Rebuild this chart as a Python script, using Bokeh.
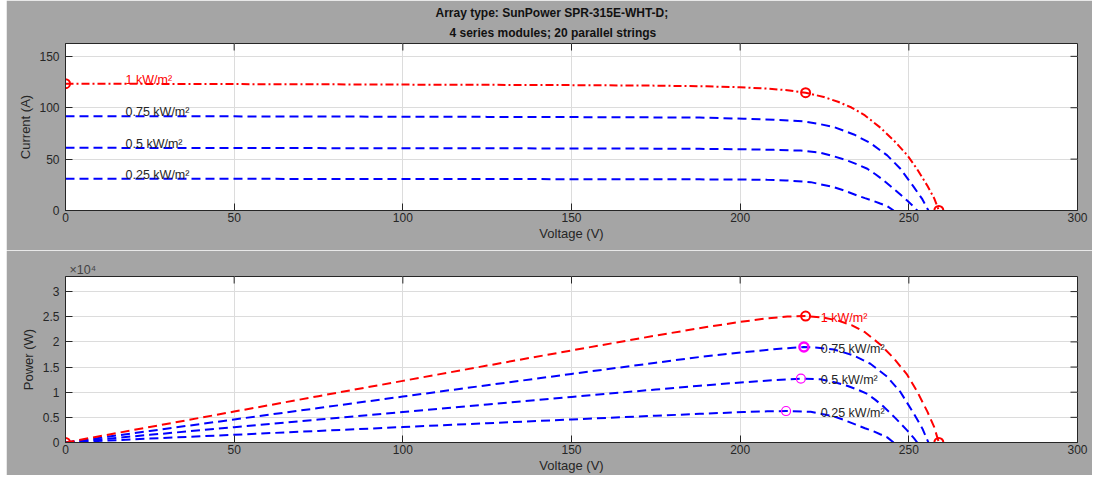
from bokeh.plotting import figure
from bokeh.layouts import column
from bokeh.models import ColumnDataSource, FixedTicker, Range1d, Title
from bokeh.core.properties import value
from bokeh.embed import file_html
from bokeh.resources import INLINE

# ---------------- data ----------------
v_1000 = [0, 25, 50, 75, 100, 125, 150, 175, 190, 200, 208, 214, 219.4, 224.8, 229, 233, 237, 241.6, 245.6, 249.5, 252.5, 255.5, 257.5, 258.9]
i_1000 = [123.4, 123.2, 123.0, 122.8, 122.5, 122.3, 122.0, 121.5, 120.8, 119.9, 118.6, 117.0, 114.6, 110.4, 105.8, 100.2, 92.5, 80.5, 68.0, 54.0, 40.0, 24.0, 12.0, 0]
p_1000 = [0, 3080, 6150, 9210, 12250, 15288, 18300, 21263, 22952, 23980, 24669, 25038, 25143, 24818, 24228, 23347, 21923, 19449, 16701, 13473, 10100, 6132, 3090, 0]

v_750 = [0, 25, 50, 75, 100, 125, 150, 175, 188, 201, 210, 218.9, 223, 227.8, 233.7, 238.6, 243.6, 247.5, 251.5, 254, 255.8]
i_750 = [91.8, 91.7, 91.6, 91.4, 91.3, 91.1, 90.9, 90.6, 90.4, 89.3, 88.3, 86.7, 84.5, 81.2, 74.0, 65.6, 53.6, 40.6, 22.7, 11.0, 0]
p_750 = [0, 2293, 4580, 6855, 9130, 11388, 13635, 15855, 16995, 17949, 18543, 18979, 18844, 18497, 17294, 15652, 13057, 10049, 5709, 2794, 0]

v_500 = [0, 25, 50, 75, 100, 125, 150, 175, 188, 201, 210, 218, 223.8, 228, 231.7, 235, 237.7, 240, 242.6, 246.1, 249.5, 251.5, 252.5]
i_500 = [61.0, 60.9, 60.8, 60.7, 60.6, 60.5, 60.4, 60.2, 60.0, 59.6, 59.0, 58.3, 56.2, 52.5, 48.7, 44.5, 40.6, 35.5, 29.2, 19.5, 9.7, 3.5, 0]
p_500 = [0, 1523, 3040, 4553, 6060, 7563, 9060, 10535, 11280, 11980, 12390, 12709, 12578, 11970, 11284, 10458, 9651, 8520, 7084, 4799, 2420, 880, 0]

v_250 = [0, 25, 50, 75, 100, 125, 150, 175, 188, 201, 208, 213.6, 220.9, 227.8, 231, 234.7, 237, 239.6, 241.5, 243.6, 245.5]
i_250 = [30.9, 30.85, 30.8, 30.75, 30.7, 30.6, 30.5, 30.4, 30.3, 30.1, 29.8, 29.3, 27.6, 22.7, 19.2, 14.6, 12.0, 9.2, 6.8, 4.2, 0]
p_250 = [0, 771, 1540, 2306, 3070, 3825, 4575, 5320, 5696, 6050, 6198, 6258, 6097, 5171, 4435, 3427, 2844, 2204, 1642, 1023, 0]

irradiance_labels = ["1 kW/m\u00b2", "0.75 kW/m\u00b2", "0.5 kW/m\u00b2", "0.25 kW/m\u00b2"]
mpp_index = [12, 11, 11, 11]

x_ticks = [0, 50, 100, 150, 200, 250, 300]
i_ticks = [0, 50, 100, 150]
p_ticks = [0, 5000, 10000, 15000, 20000, 25000, 30000]
p_tick_labels = ["0", "0.5", "1", "1.5", "2", "2.5", "3"]

title_line1 = "Array type: SunPower SPR-315E-WHT-D;"
title_line2 = "4 series modules; 20 parallel strings"

# ---------------- styling ----------------
FONT = "Liberation Sans"
BG = "#a5a5a5"
AX = "#262626"
GRID = "#dcdcdc"
RED = "#ff0000"
BLUE = "#0000ff"
MAG = "#ff00ff"
TXT = "#262626"
XMAX = 300
FRAME_W = 1012
TICK_PX = 7

V_all = [v_1000, v_750, v_500, v_250]
I_all = [i_1000, i_750, i_500, i_250]
P_all = [p_1000, p_750, p_500, p_250]
label_colors = [RED, TXT, TXT, TXT]


def make_fig(height, ymax, yticks, ylabel, border_top, border_bottom, label_standoff, frame_h):
    p = figure(width=1086, height=height, output_backend="svg", toolbar_location=None,
               x_range=Range1d(0, XMAX), y_range=Range1d(0, ymax),
               min_border_left=59, min_border_right=15,
               min_border_top=border_top, min_border_bottom=border_bottom)
    p.border_fill_color = BG
    p.background_fill_color = "white"
    p.outline_line_color = AX
    p.outline_line_width = 1
    for ax, ticks in ((p.xaxis, x_ticks), (p.yaxis, yticks)):
        ax.ticker = FixedTicker(ticks=ticks)
        ax.major_tick_in = TICK_PX
        ax.major_tick_out = 0
        ax.minor_tick_line_color = None
        ax.axis_line_color = AX
        ax.major_tick_line_color = AX
        ax.major_label_text_font = FONT
        ax.major_label_text_font_size = "12px"
        ax.major_label_text_color = TXT
        ax.axis_label_text_font = FONT
        ax.axis_label_text_font_size = "13px"
        ax.axis_label_text_font_style = "normal"
        ax.axis_label_text_color = TXT
    p.xaxis.major_label_standoff = 2
    p.xaxis.axis_label_standoff = 1
    p.yaxis.major_label_standoff = 6
    p.yaxis.axis_label_standoff = label_standoff
    p.xaxis.axis_label = "Voltage (V)"
    p.yaxis.axis_label = ylabel
    p.xgrid.ticker = FixedTicker(ticks=x_ticks)
    p.ygrid.ticker = FixedTicker(ticks=yticks)
    p.xgrid.grid_line_color = GRID
    p.ygrid.grid_line_color = GRID
    # inward tick marks on the top and right edges of the box
    dy = TICK_PX / frame_h * ymax
    dx = TICK_PX / FRAME_W * XMAX
    p.segment(x0=x_ticks, y0=[ymax] * len(x_ticks), x1=x_ticks, y1=[ymax - dy] * len(x_ticks),
              line_color=AX, line_width=1)
    p.segment(x0=[XMAX] * len(yticks), y0=yticks, x1=[XMAX - dx] * len(yticks), y1=yticks,
              line_color=AX, line_width=1)
    return p


# ---------------- top: I-V ----------------
p1 = make_fig(250, 162.5, i_ticks, "Current (A)", 43, 40, 3, 167)
p1.add_layout(Title(text=title_line2, align="left", offset=384, text_font=FONT, text_font_size="12px",
                    text_font_style="bold", text_color="#111111", standoff=8), "above")
p1.add_layout(Title(text=title_line1, align="left", offset=370, text_font=FONT, text_font_size="12px",
                    text_font_style="bold", text_color="#111111", standoff=0), "above")

for k in (3, 2, 1):
    p1.line(V_all[k], I_all[k], line_color=BLUE, line_width=2, line_dash="9 5")
p1.line(v_1000, i_1000, line_color=RED, line_width=2, line_dash="8 3 2 3")

k0 = mpp_index[0]
p1.scatter([v_1000[0], v_1000[k0], v_1000[-1]], [i_1000[0], i_1000[k0], i_1000[-1]],
           marker="circle", size=9, fill_color=None, line_color=RED, line_width=2)

top_lab = ColumnDataSource(dict(x=[17.8] * 4, y=[c[0] + 4 for c in I_all],
                                t=irradiance_labels, c=label_colors))
p1.text(x="x", y="y", text="t", text_color="c", source=top_lab, text_font=value(FONT),
        text_font_size=value("12.5px"), text_baseline="middle", text_align="left")

# ---------------- bottom: P-V ----------------
p2 = make_fig(225, 33000, p_ticks, "Power (W)", 26, 30, 4, 166)
p2.yaxis[0].major_label_overrides = {t: s for t, s in zip(p_ticks, p_tick_labels)}
p2.add_layout(Title(text="\u00d710\u2074", align="left", offset=4, text_font=FONT, text_font_size="12.5px",
                    text_font_style="normal", text_color="#444444", standoff=0), "above")

for k in (3, 2, 1):
    p2.line(V_all[k], P_all[k], line_color=BLUE, line_width=2, line_dash="9 5")
p2.line(v_1000, p_1000, line_color=RED, line_width=2, line_dash="9 5")

p2.scatter([v_1000[0], v_1000[k0], v_1000[-1]], [p_1000[0], p_1000[k0], p_1000[-1]],
           marker="circle", size=9, fill_color=None, line_color=RED, line_width=2)
p2.scatter([V_all[1][mpp_index[1]]], [P_all[1][mpp_index[1]]], marker="circle", size=9,
           fill_color=None, line_color=MAG, line_width=2.5)
p2.scatter([V_all[k][mpp_index[k]] for k in (2, 3)], [P_all[k][mpp_index[k]] for k in (2, 3)],
           marker="circle", size=9, fill_color=None, line_color=MAG, line_width=1.2)

bot_lab = ColumnDataSource(dict(x=[v_1000[k0] + 4.5] * 4,
                                y=[P_all[k][mpp_index[k]] - 300 for k in range(4)],
                                t=irradiance_labels, c=label_colors))
p2.text(x="x", y="y", text="t", text_color="c", source=bot_lab, text_font=value(FONT),
        text_font_size=value("12.5px"), text_baseline="middle", text_align="left")

layout = column(p1, p2, spacing=0, margin=(0, 7, 0, 6))
open("out.html", "w").write(file_html(layout, INLINE))
